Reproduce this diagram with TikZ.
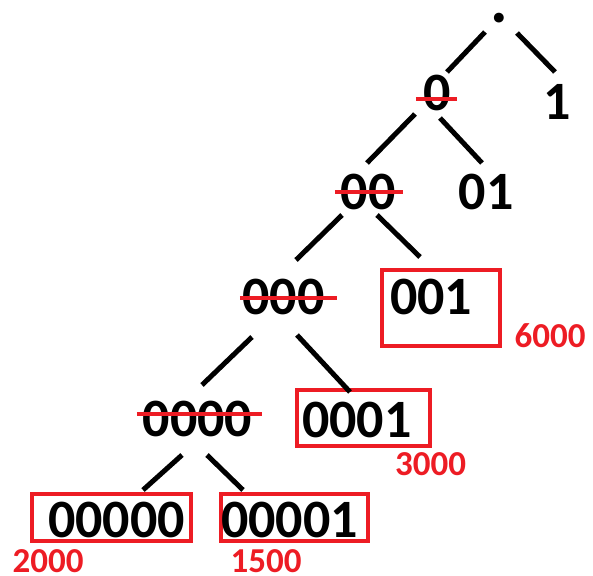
\documentclass[tikz,border=0pt]{standalone}
\usepackage{fontspec}
\setmainfont{Carlito}
\usetikzlibrary{calc}
\definecolor{paintred}{RGB}{237,28,36}
\tikzset{
  bit/.style={inner sep=0pt, font=\fontsize{54}{54}\selectfont\bfseries},
  leaf/.style={bit, draw=paintred, line width=4pt, outer sep=0pt, align=left},
  cost/.style={text=paintred, inner sep=0pt, font=\fontsize{35}{35}\selectfont\bfseries},
  edge/.style={line width=5pt},
  strike/.style={draw=paintred, line width=4pt},
}

\begin{document}
\begin{tikzpicture}[x=1pt, y=-1pt]
        \useasboundingbox (0,0) rectangle (593,575);
        \node[bit, font=\fontsize{66}{66}\selectfont\bfseries] (root) at (499,18) {.};
        \node[bit] (n0) at (437.5,92.5) {0};
        \node[bit] (n1) at (557.5,101.5) {1};
        \node[bit] (n00) at (368,191.5) {00};
        \node[bit] (n01) at (486,191.5) {01};
        \node[bit] (n000) at (283.5,296.5) {000};
        \node[leaf, text width=102pt, inner xsep=8pt, inner ysep=10pt,
              text height=34.3pt, text depth=21.7pt] (n001) at (441,308) {001};
        \node[bit] (n0000) at (197.5,419) {0000};
        \node[leaf, text width=123pt, inner xsep=5pt, inner ysep=0pt,
              text height=47.3pt, text depth=8.7pt] (n0001) at (363.5,418) {0001};
        \node[leaf, text width=147pt, align=right, inner xsep=6pt, inner ysep=0pt,
              text height=43pt, text depth=4pt] (n00000) at (111.5,517.5) {00000};
        \node[leaf, text width=147pt, inner xsep=0pt, inner ysep=0pt,
              text height=43pt, text depth=4pt] (n00001) at (294.5,517.5) {00001};
        % costs
        \node[cost] (c001) at (550,336) {6000};
        \node[cost] (c0001) at (430.5,464) {3000};
        \node[cost] (c00000) at (48,561.5) {2000};
        \node[cost] (c00001) at (266,561.5) {1500};
        % tree edges
        \draw[edge] ($(root)+(-14,14)$) -- ($(n0)+(9.5,-20.5)$);
        \draw[edge] ($(root)+(18,15)$) -- ($(n1)+(-2.5,-29.5)$);
        \draw[edge] ($(n0)+(-22.5,21.5)$) -- ($(n00)+(-1,-28.5)$);
        \draw[edge] ($(n0)+(2.5,25.5)$) -- ($(n01)+(-4,-28.5)$);
        \draw[edge] ($(n00)+(-26,23.5)$) -- ($(n000)+(12.5,-36.5)$);
        \draw[edge] ($(n00)+(9,23.5)$) -- ($(n001.north)+(-21,-13)$);
        \draw[edge] ($(n000)+(-31.5,40.5)$) -- ($(n0000)+(4.5,-34)$);
        \draw[edge] ($(n000)+(13.5,38.5)$) -- ($(n0001.north)+(-13.5,2)$);
        \draw[edge] ($(n0000)+(-15.5,36)$) -- ($(n00000.north)+(31.5,-4)$);
        \draw[edge] ($(n0000)+(9.5,36)$) -- ($(n00001.north)+(-51.5,-4)$);
        % crossed out
        \draw[strike] ($(n0.west)+(-7.8,6.5)$) -- ($(n0.east)+(5.8,6.5)$);
        \draw[strike] ($(n00.west)+(-5.6,0.5)$) -- ($(n00.east)+(7.6,0.5)$);
        \draw[strike] ($(n000.west)+(-2.4,1.5)$) -- ($(n000.east)+(12.4,1.5)$);
        \draw[strike] ($(n0000.west)+(-5.7,-5)$) -- ($(n0000.east)+(9.7,-5)$);
\end{tikzpicture}
\end{document}
